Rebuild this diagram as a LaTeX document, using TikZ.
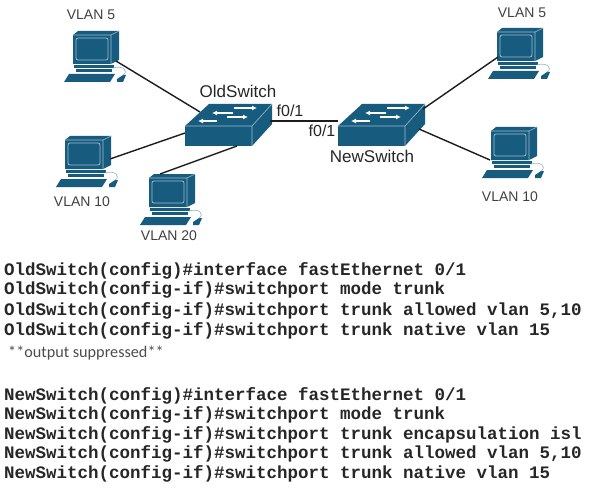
\documentclass[tikz,border=0pt]{standalone}
\usepackage{fontspec}
\setmainfont{Liberation Sans}
\newfontfamily\clifont{Liberation Mono}[FontFace={bf}{n}{Liberation Mono Bold}]
\newfontfamily\notefont{Carlito}
\usetikzlibrary{arrows.meta}
\definecolor{iconblue}{HTML}{175B7F}
\definecolor{iconedge}{HTML}{9DBCCD}
\definecolor{linkgray}{HTML}{1C1C1C}
\definecolor{clitext}{HTML}{262626}
\tikzset{
  link/.style={draw=linkgray, line width=1.4pt},
  devlabel/.style={inner sep=0pt, text=black!75, font=\fontsize{14}{16}\selectfont},
  swlabel/.style={inner sep=0pt, text=black!85, font=\fontsize{17}{19}\selectfont},
  portlabel/.style={inner sep=0pt, text=black!85, font=\fontsize{16}{18}\selectfont},
  cliline/.style={anchor=base west, inner sep=0pt, text=clitext, font=\clifont\bfseries\fontsize{17.5}{20}\selectfont},
  noteline/.style={anchor=base west, inner sep=0pt, text=black!70, font=\notefont\fontsize{16.2}{18}\selectfont},
  pcicon/.pic={
    % monitor
    \fill[iconblue] (0,4) -- (5,0) -- (46,0) -- (46,29) -- (38,33) -- (0,33) -- cycle;
    \draw[iconedge, line width=0.6pt] (0,4) -- (38,4) -- (46,0) (38,4) -- (38,33);
    \draw[iconedge, line width=0.8pt, rounded corners=2pt] (3,7) rectangle (35,29);
    % stand and keyboard
    \fill[iconblue] (1,34) rectangle (41,37);
    \fill[iconblue] (3,38) rectangle (39,41);
    \fill[iconblue] (-4,43) -- (42,43) -- (37,51) -- (-9,51) -- cycle;
    \fill[iconblue] (44,48) -- (50,44) -- (53,44) -- (50,51) -- (44,51) -- cycle;
    \draw[iconedge, line width=0.7pt] (40,37) .. controls (50,34) and (56,40) .. (50,44);
    % where the links end
    \coordinate (-east) at (43,30);
    \coordinate (-side) at (45,23);
    \coordinate (-top) at (11,0);
    \coordinate (-west) at (1,29);
    \coordinate (-south) at (-1,33);
  },
  switchicon/.pic={
    \fill[iconblue] (0,22) -- (24,0) -- (87,0) -- (87,20) -- (67,42) -- (0,42) -- cycle;
    \draw[iconedge, line width=0.6pt] (0,22) -- (67,22) -- (87,0) (67,22) -- (67,42);
    % arrows on the top face
    \foreach \xa/\xb/\ya in {49/72/4, 48/27/9, 42/63/13, 32/13/17}
      \draw[white, line width=1.3pt, -{Latex[length=5pt,width=5pt]}] (\xa,\ya) -- (\xb,\ya);
    % where the links end
    \coordinate (-lefttop) at (15,8);
    \coordinate (-left) at (0,29);
    \coordinate (-bottom) at (52,42);
    \coordinate (-righttop) at (85,5);
    \coordinate (-right) at (81,25);
    \coordinate (-back) at (85,17);
  }
}
\begin{document}
\begin{tikzpicture}[x=1pt, y=-1pt]
\useasboundingbox (0,0) rectangle (593,489);

% Devices
\pic (pcOneFive) at (73,31) {pcicon};
\pic (pcOneTen) at (65,136) {pcicon};
\pic (pcOneTwenty) at (149,174) {pcicon};
\pic (pcTwoFive) at (497,28) {pcicon};
\pic (pcTwoTen) at (491,127) {pcicon};
\pic (oldSw) at (185,104) {switchicon};
\pic (newSw) at (338,104) {switchicon};

% Links
\draw[link] (pcOneFive-east) -- (oldSw-lefttop);
\draw[link] (pcOneTen-side) -- (oldSw-left);
\draw[link] (pcOneTwenty-top) -- (oldSw-bottom);
\draw[link] (oldSw-back) -- (newSw-left |- oldSw-back);
\draw[link] (newSw-righttop) -- (pcTwoFive-west);
\draw[link] (newSw-right) -- (pcTwoTen-south);

% Labels
\node[devlabel] (lblOneFive) at (91,15) {VLAN 5};
\node[devlabel] (lblOneTen) at (82,202) {VLAN 10};
\node[devlabel] (lblOneTwenty) at (169,236) {VLAN 20};
\node[devlabel] (lblTwoFive) at (522,13) {VLAN 5};
\node[devlabel] (lblTwoTen) at (510,197) {VLAN 10};
\node[swlabel] (lblOld) at (238,91) {OldSwitch};
\node[swlabel] (lblNew) at (372,156) {NewSwitch};
\node[portlabel] (lblOldPort) at (290,111) {f0/1};
\node[portlabel] (lblNewPort) at (322,131) {f0/1};

% Config of the old switch
\node[cliline] (oldA) at (4,275) {OldSwitch(config)\#interface fastEthernet 0/1};
\node[cliline] (oldB) at (4,294) {OldSwitch(config-if)\#switchport mode trunk};
\node[cliline] (oldC) at (4,315) {OldSwitch(config-if)\#switchport trunk allowed vlan 5,10};
\node[cliline] (oldD) at (4,335) {OldSwitch(config-if)\#switchport trunk native vlan 15};
\node[noteline] (oldNote) at (8,357) {**output suppressed**};

% Config of the new switch
\node[cliline] (newA) at (4,400) {NewSwitch(config)\#interface fastEthernet 0/1};
\node[cliline] (newB) at (4,419) {NewSwitch(config-if)\#switchport mode trunk};
\node[cliline] (newC) at (4,439) {NewSwitch(config-if)\#switchport trunk encapsulation isl};
\node[cliline] (newD) at (4,458) {NewSwitch(config-if)\#switchport trunk allowed vlan 5,10};
\node[cliline] (newE) at (4,478) {NewSwitch(config-if)\#switchport trunk native vlan 15};
\end{tikzpicture}
\end{document}
